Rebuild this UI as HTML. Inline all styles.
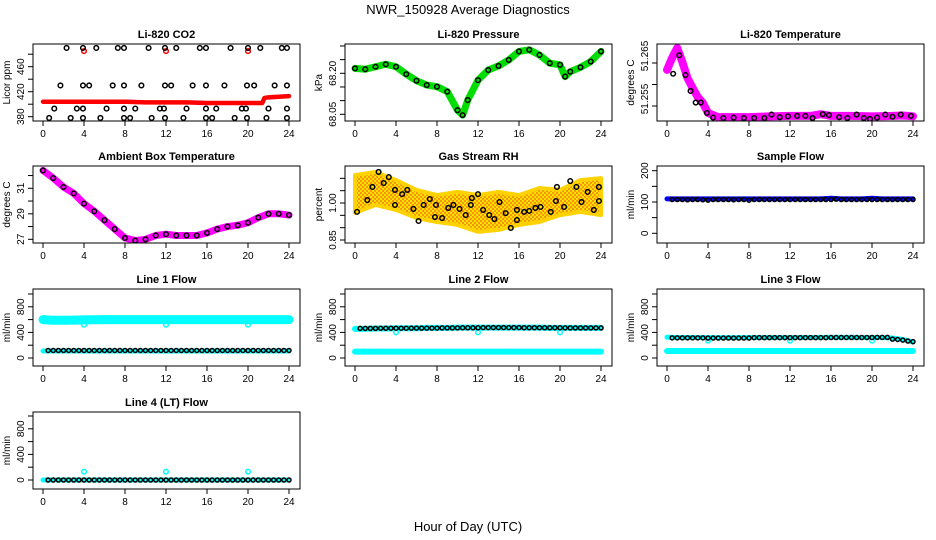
<!DOCTYPE html>
<html><head><meta charset="utf-8"><style>
html,body{margin:0;padding:0;background:#fff}
svg{display:block;font-family:"Liberation Sans",Arial,sans-serif}
</style></head><body>
<svg id="c" width="936" height="540" viewBox="0 0 936 540" xmlns="http://www.w3.org/2000/svg">
<defs>
<pattern id="rhpat" width="4" height="4" patternUnits="userSpaceOnUse">
<rect width="4" height="4" fill="#ffe000"/><circle cx="1" cy="1" r="0.9" fill="#f06000"/><circle cx="3" cy="3" r="0.9" fill="#f06000"/>
</pattern>
</defs>
<rect width="936" height="540" fill="#fff"/>
<text x="468" y="14" text-anchor="middle" font-size="13">NWR_150928  Average Diagnostics</text>
<text x="468" y="531" text-anchor="middle" font-size="13">Hour of Day (UTC)</text>
</svg>
<script>
// ---------- data ----------
const HOURS = [0,1,2,3,4,5,6,7,8,9,10,11,12,13,14,15,16,17,18,19,20,21,22,23,24];
const HALF = [0.5,1,1.5,2,2.5,3,3.5,4,4.5,5,5.5,6,6.5,7,7.5,8,8.5,9,9.5,10,10.5,11,11.5,12,12.5,13,13.5,14,14.5,15,15.5,16,16.5,17,17.5,18,18.5,19,19.5,20,20.5,21,21.5,22,22.5,23,23.5,24];
const X_TICKS = [0,4,8,12,16,20,24];

const co2RedHours = [0,2,4,6,8,10,12,14,16,18,20,21.4,21.6,22,23,24];
const co2Red = [404,404,404,404,404,403,403,403,402,402,402,402,410,411,412,413];
const co2H490 = [2.3,3.9,5.2,7.3,7.9,10.3,11.9,13.0,15.3,15.9,18.3,20.0,21.2,23.3,23.8];
const co2H430 = [1.7,3.9,4.5,6.8,7.9,9.6,11.9,12.5,14.6,15.9,17.7,19.9,20.6,22.6,23.8];
const co2H393 = [1.1,3.3,3.9,6.2,7.9,9.0,11.4,11.8,14.0,15.9,16.9,19.4,19.8,22.0,23.8];
const co2H378 = [0.6,2.7,3.9,5.6,7.9,8.5,10.6,11.9,13.7,15.9,16.5,18.7,19.9,21.8,23.8];
const co2RedOutHours = [4,12,20];
const co2RedOut = [485,485,485];

const presHours = [0,1,2,3,4,5,6,7,8,9,10,10.5,11,12,13,14,15,16,17,18,19,20,20.5,21,22,23,24];
const pres = [68.218,68.215,68.224,68.233,68.224,68.197,68.173,68.157,68.151,68.133,68.065,68.047,68.102,68.175,68.212,68.227,68.249,68.280,68.286,68.267,68.237,68.231,68.188,68.206,68.222,68.243,68.280];

const tempHours = [0,0.5,1,1.5,2,2.5,3,3.5,4,5,6,8,10,12,14,15,16,18,20,22,23,24];
const temp = [51.2634,51.2662,51.2685,51.2652,51.2615,51.2592,51.2571,51.2557,51.2534,51.2524,51.2524,51.2524,51.2526,51.2527,51.2527,51.2531,51.2527,51.2527,51.2526,51.2527,51.2528,51.2526];
const tempBlackHours = [0.6,1.2,1.8,2.3,2.8,3.3,3.9,4.5,5.5,6.5,7.5,8.5,9.5,10.2,11,11.8,12.7,13.5,14.2,15.2,15.8,16.8,17.6,18.5,19.2,19.8,20.5,21.3,22,22.8,23.8];
const tempBlack = [51.2625,51.2668,51.2622,51.2585,51.2558,51.2558,51.2534,51.2523,51.2522,51.2523,51.2522,51.2522,51.2522,51.2530,51.2524,51.2526,51.2527,51.2527,51.2522,51.2531,51.2529,51.2524,51.2522,51.2530,51.2522,51.2520,51.2523,51.2530,51.2525,51.2530,51.2527];

const amb = [32.4,31.8,31.1,30.6,29.8,29.2,28.5,27.8,27.1,26.9,27.0,27.3,27.4,27.3,27.3,27.3,27.5,27.8,28.0,28.1,28.3,28.7,29.0,29.0,28.9];

const rhBandHours = [0,2,4,6,8,10,12,14,16,18,20,22,24];
const rhUpper = [1.113,1.126,1.093,1.053,1.032,1.045,1.032,1.045,1.032,1.061,1.053,1.093,1.101];
const rhLower = [0.960,0.992,0.972,0.939,0.923,0.911,0.883,0.891,0.911,0.923,0.951,0.964,0.951];
const rhBlackHours = [0.2,1.2,1.7,2.3,2.8,3.3,3.9,3.9,4.6,5.1,5.7,6.2,6.7,7.3,7.9,7.8,8.5,9.1,9.6,10.2,10.8,11.3,11.4,12.0,12.5,13.1,13.6,14.1,14.7,15.2,15.8,15.8,16.5,17.0,17.6,18.1,19.1,19.6,19.7,20.4,21.0,21.6,22.1,22.7,23.3,23.8,23.8];
const rhBlack = [0.964,1.012,1.065,1.126,1.081,1.105,1.053,0.992,1.036,1.053,0.976,0.927,0.992,1.016,0.992,0.943,0.939,0.980,0.992,0.976,0.951,0.992,1.020,1.036,0.972,0.951,0.935,1.004,0.959,0.899,0.972,0.931,0.964,0.968,0.980,0.984,0.964,1.008,1.065,0.984,1.089,1.065,1.004,1.045,0.972,1.065,1.008];

const sampleVals = [108,108,108,107,108,108,107,106,108,108,108,108,107,108,108,106,108,108,108,108,108,108,108,108,108,108,108,108,108,108,108,108,109,108,108,108,108,108,108,108,108,108,108,108,108,108,108,108];
const sampleBlue = [110,110,110,110,110,110,110,110,110,110,110,110,110,110,110,110,112,110,110,110,112,110,110,110,110];

const l1CyanHi = [600,590,590,592,595,598,600,600,600,600,600,600,600,600,600,600,600,600,600,600,600,600,600,600,600];
const l1CyanLo = [110,110,110,110,110,110,110,110,110,110,110,110,110,110,110,110,110,110,110,110,110,110,110,110,110];
const l1Black = [118,118,118,118,118,118,118,118,118,118,118,118,118,118,118,118,118,118,118,118,118,118,118,118,118,118,118,118,118,118,118,118,118,118,118,118,118,118,118,118,118,118,118,118,118,118,118,118];
const outHours = [4,12,20];
const l1Out = [520,520,520];

const l2Cyan = [100,100,100,100,100,100,100,100,100,100,100,100,100,100,100,100,100,100,100,100,100,100,100,100,100];
const l2CyanHi = [455,455,460,460,465,465,465,470,470,470,475,475,475,475,475,475,475,475,475,470,470,470,470,470,470];
const l2Black = [462,462,463,463,464,464,465,465,465,465,466,466,466,466,467,467,470,470,470,470,472,472,472,472,475,475,475,475,475,475,475,475,473,473,473,473,472,472,472,472,470,470,470,470,470,470,470,470];
const l2Out = [400,400,400];

const l3Cyan = [110,110,110,110,110,110,110,110,110,110,110,110,110,110,110,110,110,110,110,110,110,110,110,110,110];
const l3CyanHi = [325,320,320,320,318,318,318,318,320,320,320,320,320,320,320,322,322,322,322,320,320,320,310,290,250];
const l3Black = [315,315,315,315,315,315,315,312,312,312,312,312,312,312,312,312,318,318,318,318,318,318,318,318,318,318,318,318,318,318,318,320,320,320,320,320,320,320,320,320,322,322,322,295,290,280,265,255];
const l3Out = [270,270,270];

const l4Cyan = [0,0,0,0,0,0,0,0,0,0,0,0,0,0,0,0,0,0,0,0,0,0,0,0,0];
const l4Black = [0,0,0,0,0,0,0,0,0,0,0,0,0,0,0,0,0,0,0,0,0,0,0,0,0,0,0,0,0,0,0,0,0,0,0,0,0,0,0,0,0,0,0,0,0,0,0,0];
const l4Out = [130,130,130];

// ---------- drawing ----------
const NS = 'http://www.w3.org/2000/svg';
const svg = document.getElementById('c');
const COLX = [43, 355, 667];
const ROWY = [44, 166, 289, 412];
const PXH = 10.25, BOXW = 267, BOXH = 77;

function mk(tag, attrs, parent) {
  const e = document.createElementNS(NS, tag);
  for (const k in attrs) e.setAttribute(k, attrs[k]);
  (parent || svg).appendChild(e);
  return e;
}

function panel(name, col, row, title, ylab, v1, y1, v2, y2, ticks, labels, lblOff) {
  const g = mk('g', {});
  
  
  const x0 = COLX[col], top = ROWY[row], left = x0 - 10, bottom = top + BOXH;
  const X = h => x0 + h * PXH;
  const Y = v => y1 + (v - v1) * (y2 - y1) / (v2 - v1);
  const t = mk('text', {x: left + BOXW / 2, y: top - 6, 'text-anchor': 'middle', 'font-size': 11, 'font-weight': 'bold'}, g);
  t.textContent = title;
  
  
  const yl = mk('text', {x: left - 23, y: (top + bottom) / 2, 'text-anchor': 'middle', 'font-size': 10, transform: `rotate(-90 ${left - 23} ${(top + bottom) / 2})`}, g);
  yl.textContent = ylab;
  
  
  ticks.forEach(v => {
    const y = Y(v);
    if (y < top - 1 || y > bottom + 1) return;
    mk('line', {x1: left - 5, x2: left, y1: y, y2: y, stroke: '#000'}, g);
  });
  labels.forEach(([v, s]) => {
    const y = Y(v) + (lblOff || 0), x = left - 9;
    const lt = mk('text', {x: x, y: y, 'text-anchor': 'middle', 'font-size': 10, transform: `rotate(-90 ${x} ${y})`}, g);
    lt.textContent = s;
    
    
  });
  X_TICKS.forEach(h => {
    mk('line', {x1: X(h), x2: X(h), y1: bottom, y2: bottom + 5, stroke: '#000'}, g);
    const xt = mk('text', {x: X(h), y: bottom + 16, 'text-anchor': 'middle', 'font-size': 10}, g);
    xt.textContent = h;
    
    
  });
  const plot = mk('g', {}, g);
  const clip = 'clip-' + name;
  const cp = mk('clipPath', {id: clip}, g);
  mk('rect', {x: left, y: top, width: BOXW, height: BOXH}, cp);
  plot.setAttribute('clip-path', `url(#${clip})`);
  const box = mk('rect', {x: left, y: top, width: BOXW, height: BOXH, fill: 'none', stroke: '#000', 'stroke-width': 1}, g);
  
  
  return {X, Y, plot};
}

function band(p, hours, vals, color, w, nm) {
  const pl = mk('polyline', {points: hours.map((h, i) => p.X(h) + ',' + p.Y(vals[i])).join(' '), fill: 'none', stroke: color, 'stroke-width': w, 'stroke-linejoin': 'round', 'stroke-linecap': 'round'}, p.plot);
  
  
}
function pts(p, hours, vals, color, nm, r) {
  hours.forEach((h, i) => {
    const c = mk('circle', {cx: p.X(h), cy: p.Y(vals[i]), r: r || 2.3, fill: 'none', stroke: color, 'stroke-width': 1.5}, p.plot);
    
    
  });
}
const rep = (n, v) => Array(n).fill(v);

// Li-820 CO2
let p = panel('co2', 0, 0, 'Li-820 CO2', 'Licor ppm', 380, 116.7, 460, 66.7, [380,400,420,440,460,480], [[380,'380'],[420,'420'],[460,'460']]);
band(p, co2RedHours, co2Red, '#ff0000', 4.5, 'co2-red-series');
pts(p, co2RedOutHours, co2RedOut, '#ff0000', 'co2-red-outlier');
pts(p, co2H490, rep(co2H490.length, 490), '#000', 'co2-black-point');
pts(p, co2H430, rep(co2H430.length, 430), '#000', 'co2-black-point');
pts(p, co2H393, rep(co2H393.length, 393), '#000', 'co2-black-point');
pts(p, co2H378, rep(co2H378.length, 378), '#000', 'co2-black-point');

// Pressure
p = panel('pressure', 1, 0, 'Li-820 Pressure', 'kPa', 68.05, 114.3, 68.20, 73.3, [68.05,68.10,68.15,68.20,68.25,68.30], [[68.05,'68.05'],[68.20,'68.20']]);
band(p, presHours, pres, '#00dd00', 7, 'pressure-green-series');
pts(p, presHours, pres, '#000', 'pressure-black-point');

// Temperature
p = panel('li820-temp', 2, 0, 'Li-820 Temperature', 'degrees C', 51.255, 106, 51.265, 63, [51.255,51.260,51.265], [[51.255,'51.255'],[51.265,'51.265']], -7);
band(p, tempHours, temp, '#ff00ff', 8, 'li820-temp-magenta-series');
pts(p, tempBlackHours, tempBlack, '#000', 'li820-temp-black-point');

// Ambient
p = panel('ambient', 0, 1, 'Ambient Box Temperature', 'degrees C', 27, 239.3, 31, 188.3, [27,28,29,30,31,32], [[27,'27'],[29,'29'],[31,'31']]);
band(p, HOURS, amb, '#ff00ff', 7, 'ambient-magenta-series');
pts(p, HOURS, amb, '#000', 'ambient-black-point');

// RH
p = panel('rh', 1, 1, 'Gas Stream RH', 'percent', 0.85, 240, 1.00, 203, [0.85,0.90,0.95,1.00,1.05,1.10], [[0.85,'0.85'],[1.00,'1.00']]);
{
  const up = rhBandHours.map((h, i) => p.X(h) + ',' + p.Y(rhUpper[i]));
  const lo = rhBandHours.map((h, i) => p.X(h) + ',' + p.Y(rhLower[i])).reverse();
  const poly = mk('polygon', {points: up.concat(lo).join(' '), fill: 'url(#rhpat)', stroke: '#ffd200', 'stroke-width': 4, 'stroke-linejoin': 'round'}, p.plot);
  
  
}
pts(p, rhBlackHours, rhBlack, '#000', 'rh-black-point');

// Sample flow
p = panel('sample-flow', 2, 1, 'Sample Flow', 'ml/min', 0, 233.3, 200, 170.7, [0,50,100,150,200], [[0,'0'],[100,'100'],[200,'200']]);
band(p, HOURS, sampleBlue, '#0000ff', 5, 'sample-flow-blue-series');
pts(p, HALF, sampleVals, '#000', 'sample-flow-black-point', 2);

// Flow panels
const FT = [0,200,400,600,800,1000], FL = [[0,'0'],[400,'400'],[800,'800']];
p = panel('line1-flow', 0, 2, 'Line 1 Flow', 'ml/min', 0, 358, 400, 332.4, FT, FL);
band(p, HOURS, l1CyanHi, '#00ffff', 9, 'line1-cyan-high');
band(p, HOURS, l1CyanLo, '#00ffff', 5, 'line1-cyan-low');
pts(p, outHours, l1Out, '#00ffff', 'line1-cyan-outlier');
pts(p, HALF, l1Black, '#000', 'line1-black-point', 2);

p = panel('line2-flow', 1, 2, 'Line 2 Flow', 'ml/min', 0, 358, 400, 332.4, FT, FL);
band(p, HOURS, l2Cyan, '#00ffff', 6, 'line2-cyan-low');
band(p, HOURS, l2CyanHi, '#00ffff', 6, 'line2-cyan-high');
pts(p, outHours, l2Out, '#00ffff', 'line2-cyan-outlier');
pts(p, HALF, l2Black, '#000', 'line2-black-point', 2);

p = panel('line3-flow', 2, 2, 'Line 3 Flow', 'ml/min', 0, 358, 400, 332.4, FT, FL);
band(p, HOURS, l3Cyan, '#00ffff', 6, 'line3-cyan-low');
band(p, HOURS, l3CyanHi, '#00ffff', 5, 'line3-cyan-high');
pts(p, outHours, l3Out, '#00ffff', 'line3-cyan-outlier');
pts(p, HALF, l3Black, '#000', 'line3-black-point', 2);

p = panel('line4-flow', 0, 3, 'Line 4 (LT) Flow', 'ml/min', 0, 480, 400, 454.4, FT, FL);
band(p, HOURS, l4Cyan, '#00ffff', 5, 'line4-cyan-series');
pts(p, outHours, l4Out, '#00ffff', 'line4-cyan-outlier');
pts(p, HALF, l4Black, '#000', 'line4-black-point', 2);
</script>
</body></html>
